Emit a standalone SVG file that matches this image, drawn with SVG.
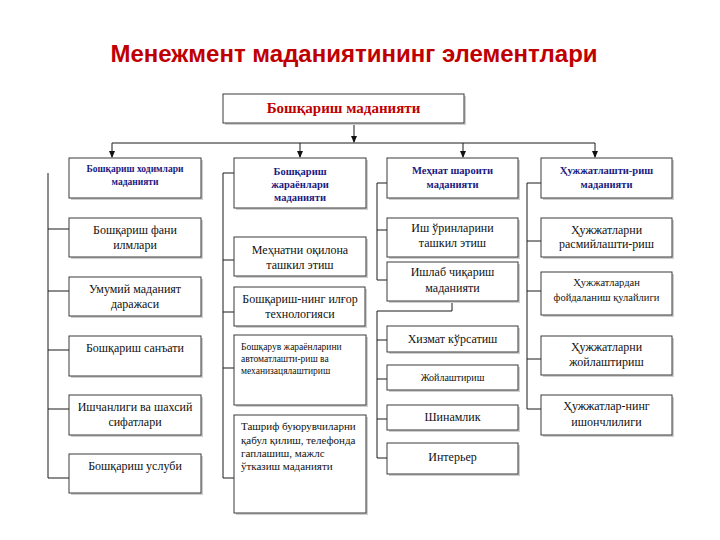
<svg xmlns="http://www.w3.org/2000/svg" width="720" height="540" viewBox="0 0 720 540">
<style>
.bx{fill:#fff;stroke:#3a3a3a;stroke-width:1}
.sh{fill:#cfcfcf}
.ln{fill:none;stroke:#1a1a1a;stroke-width:1}
.t{font-size:12px;fill:#111;text-anchor:middle}
.h{font-size:10.5px;font-weight:bold;fill:#1a1a80;text-anchor:middle}
.l{fill:#111}
</style>
<defs>
<marker id="ar" viewBox="0 0 8 8" refX="7" refY="4" markerWidth="7" markerHeight="7" orient="auto" markerUnits="userSpaceOnUse">
<path d="M0,0.5 L8,4 L0,7.5 z" fill="#111"/>
</marker>
</defs>
<rect width="720" height="540" fill="#fff"/>
<text x="354" y="62" font-family="'Liberation Sans',Arial,sans-serif" font-size="24" font-weight="bold" fill="#c00000" text-anchor="middle">Менежмент маданиятининг элементлари</text>

<g id="connectors">
<line class="ln" x1="354" y1="123" x2="354" y2="142" marker-end="url(#ar)"/>
<line class="ln" x1="112" y1="143" x2="595" y2="143"/>
<line class="ln" x1="112" y1="143" x2="112" y2="157" marker-end="url(#ar)"/>
<line class="ln" x1="300" y1="143" x2="300" y2="157" marker-end="url(#ar)"/>
<line class="ln" x1="463" y1="143" x2="463" y2="157" marker-end="url(#ar)"/>
<line class="ln" x1="595" y1="143" x2="595" y2="157" marker-end="url(#ar)"/>
<path class="ln" d="M48,173 V478 M48,229 H69 M48,291 H69 M48,350 H69 M48,409 H69 M48,478 H69"/>
<path class="ln" d="M234,173 H223 V478 H234 M223,260 H234 M223,312 H234 M223,368 H234"/>
<path class="ln" d="M387,183 H377 V280 H387 M377,230 H387 M452,302 V311 H377 V458 H387 M377,340 H387 M377,379 H387 M377,419 H387"/>
<path class="ln" d="M541,183 H527 V409 H541 M527,241 H541 M527,291 H541 M527,359 H541"/>
</g>

<g font-family="'Liberation Serif','Times New Roman',serif">
<g id="root">
<rect class="sh" x="225" y="96" width="241" height="29"/>
<rect class="bx" x="223" y="94" width="241" height="29"/>
<text x="343.5" y="113" font-size="15" font-weight="bold" fill="#c00000" text-anchor="middle">Бошқариш маданияти</text>
</g>

<g id="h1">
<rect class="sh" x="71" y="160" width="132" height="40"/>
<rect class="bx" x="69" y="158" width="132" height="40"/>
<text class="h" x="135" y="172" style="font-size:9.5px">Бошқариш ходимлари</text>
<text class="h" x="135" y="185" style="font-size:9.5px">маданияти</text>
</g>
<g id="h2">
<rect class="sh" x="236" y="160" width="132" height="50"/>
<rect class="bx" x="234" y="158" width="132" height="50"/>
<text class="h" x="300" y="175">Бошқариш</text>
<text class="h" x="300" y="188">жараёнлари</text>
<text class="h" x="300" y="201">маданияти</text>
</g>
<g id="h3">
<rect class="sh" x="389" y="160" width="131" height="40"/>
<rect class="bx" x="387" y="158" width="131" height="40"/>
<text class="h" x="452.5" y="174">Меҳнат шароити</text>
<text class="h" x="452.5" y="188">маданияти</text>
</g>
<g id="h4">
<rect class="sh" x="543" y="160" width="131" height="40"/>
<rect class="bx" x="541" y="158" width="131" height="40"/>
<text class="h" x="606.5" y="174">Ҳужжатлашти-риш</text>
<text class="h" x="606.5" y="188">маданияти</text>
</g>

<g id="c1a"><rect class="sh" x="71" y="220" width="132" height="39"/><rect class="bx" x="69" y="218" width="132" height="39"/>
<text class="t" x="135" y="234">Бошқариш фани</text><text class="t" x="135" y="249">илмлари</text></g>
<g id="c1b"><rect class="sh" x="71" y="279" width="132" height="39"/><rect class="bx" x="69" y="277" width="132" height="39"/>
<text class="t" x="135" y="293">Умумий маданият</text><text class="t" x="135" y="308">даражаси</text></g>
<g id="c1c"><rect class="sh" x="71" y="338" width="132" height="40"/><rect class="bx" x="69" y="336" width="132" height="40"/>
<text class="t" x="135" y="352">Бошқариш санъати</text></g>
<g id="c1d"><rect class="sh" x="71" y="397" width="132" height="40"/><rect class="bx" x="69" y="395" width="132" height="40"/>
<text class="t" x="135" y="411">Ишчанлиги ва шахсий</text><text class="t" x="135" y="426">сифатлари</text></g>
<g id="c1e"><rect class="sh" x="71" y="456" width="132" height="39"/><rect class="bx" x="69" y="454" width="132" height="39"/>
<text class="t" x="135" y="470">Бошқариш услуби</text></g>

<g id="c2a"><rect class="sh" x="236" y="239" width="132" height="39"/><rect class="bx" x="234" y="237" width="132" height="39"/>
<text class="t" x="300" y="254">Меҳнатни оқилона</text><text class="t" x="300" y="269">ташкил этиш</text></g>
<g id="c2b"><rect class="sh" x="236" y="289" width="131" height="39"/><rect class="bx" x="234" y="287" width="131" height="39"/>
<text class="t" x="300" y="303">Бошқариш-нинг илғор</text><text class="t" x="300" y="318">технологияси</text></g>
<g id="c2c"><rect class="sh" x="236" y="337" width="132" height="70"/><rect class="bx" x="234" y="335" width="132" height="70"/>
<text class="l" x="241" y="350" font-size="9.5">Бошқарув жараёнларини</text>
<text class="l" x="241" y="362" font-size="9.5">автоматлашти-риш ва</text>
<text class="l" x="241" y="374" font-size="9.5">механизацялаштириш</text></g>
<g id="c2d"><rect class="sh" x="236" y="417" width="132" height="98"/><rect class="bx" x="234" y="415" width="132" height="98"/>
<text class="l" x="241" y="430" font-size="11">Ташриф буюрувчиларни</text>
<text class="l" x="241" y="444" font-size="11">қабул қилиш, телефонда</text>
<text class="l" x="241" y="457" font-size="11">гаплашиш, мажлс</text>
<text class="l" x="241" y="470" font-size="11">ўтказиш маданияти</text></g>

<g id="c3a"><rect class="sh" x="389" y="220" width="131" height="39"/><rect class="bx" x="387" y="218" width="131" height="39"/>
<text class="t" x="452.5" y="232">Иш ўринларини</text><text class="t" x="452.5" y="247">ташкил этиш</text></g>
<g id="c3b"><rect class="sh" x="389" y="264" width="131" height="39"/><rect class="bx" x="387" y="262" width="131" height="39"/>
<text class="t" x="452.5" y="276">Ишлаб чиқариш</text><text class="t" x="452.5" y="292">маданияти</text></g>
<g id="c3c"><rect class="sh" x="389" y="328" width="131" height="26"/><rect class="bx" x="387" y="326" width="131" height="26"/>
<text class="t" x="452.5" y="343">Хизмат кўрсатиш</text></g>
<g id="c3d"><rect class="sh" x="389" y="367" width="131" height="25"/><rect class="bx" x="387" y="365" width="131" height="25"/>
<text class="t" x="452.5" y="381" style="font-size:10px">Жойлаштириш</text></g>
<g id="c3e"><rect class="sh" x="389" y="407" width="131" height="25"/><rect class="bx" x="387" y="405" width="131" height="25"/>
<text class="t" x="452.5" y="421">Шинамлик</text></g>
<g id="c3f"><rect class="sh" x="389" y="445" width="131" height="31"/><rect class="bx" x="387" y="443" width="131" height="31"/>
<text class="t" x="452.5" y="461">Интерьер</text></g>

<g id="c4a"><rect class="sh" x="543" y="220" width="131" height="39"/><rect class="bx" x="541" y="218" width="131" height="39"/>
<text class="t" x="606.5" y="234">Ҳужжатларни</text><text class="t" x="606.5" y="248">расмийлашти-риш</text></g>
<g id="c4b"><rect class="sh" x="543" y="274" width="131" height="43"/><rect class="bx" x="541" y="272" width="131" height="43"/>
<text class="t" x="606.5" y="286" style="font-size:10.5px">Ҳужжатлардан</text><text class="t" x="606.5" y="301" style="font-size:10.5px">фойдаланиш қулайлиги</text></g>
<g id="c4c"><rect class="sh" x="543" y="338" width="131" height="39"/><rect class="bx" x="541" y="336" width="131" height="39"/>
<text class="t" x="606.5" y="351">Ҳужжатларни</text><text class="t" x="606.5" y="366">жойлаштириш</text></g>
<g id="c4d"><rect class="sh" x="543" y="397" width="131" height="40"/><rect class="bx" x="541" y="395" width="131" height="40"/>
<text class="t" x="606.5" y="410">Ҳужжатлар-нинг</text><text class="t" x="606.5" y="426">ишончлилиги</text></g>
</g>
</svg>
